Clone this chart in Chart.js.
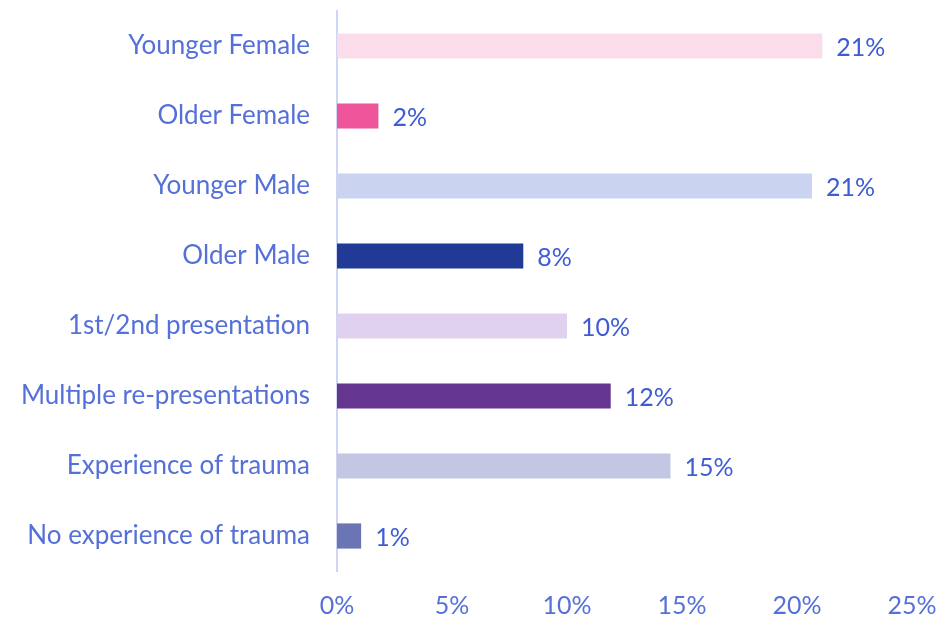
<!DOCTYPE html>
<html>
<head>
<meta charset="utf-8">
<script src="https://cdn.jsdelivr.net/npm/chart.js@4"></script>
<style>
  html, body { margin: 0; padding: 0; background: #fff; }
  #wrap { width: 948px; height: 620px; position: relative; }
</style>
</head>
<body>
<div id="wrap"><canvas id="chart"></canvas></div>
<script>
const categories = [
  'Younger Female', 'Older Female', 'Younger Male', 'Older Male',
  '1st/2nd presentation', 'Multiple re-presentations',
  'Experience of trauma', 'No experience of trauma'
];
const values = [21.1, 1.8, 20.65, 8.1, 10.0, 11.9, 14.5, 1.05];
const barColors = [
  '#fbdceb', '#ee559b', '#cad4f1', '#213a96',
  '#e0d1ee', '#653690', '#c4c7e3', '#6c75b4'
];
const xTicks = [0, 5, 10, 15, 20, 25];

const FONT = 'Lato, "Open Sans", sans-serif';
const TEXT = '#5570d8';
const LABEL_TEXT = '#3f5cd4';

// draws the rounded percentage just right of each bar
const valueLabels = {
  id: 'valueLabels',
  afterDatasetsDraw(chart) {
    const ctx = chart.ctx;
    const meta = chart.getDatasetMeta(0);
    ctx.save();
    ctx.font = '25px ' + FONT;
    ctx.fillStyle = LABEL_TEXT;
    ctx.textBaseline = 'middle';
    ctx.textAlign = 'left';
    meta.data.forEach((bar, i) => {
      ctx.fillText(Math.round(values[i]) + '%', bar.x + 14, bar.y + 2);
    });
    ctx.restore();
  }
};

new Chart(document.getElementById('chart'), {
  type: 'bar',
  data: {
    labels: categories,
    datasets: [{
      data: values,
      backgroundColor: barColors,
      borderWidth: 0,
      barPercentage: 0.36,
      categoryPercentage: 1
    }]
  },
  options: {
    indexAxis: 'y',
    responsive: true,
    maintainAspectRatio: false,
    animation: false,
    layout: { padding: { top: 11, right: 36, left: 0, bottom: 0 } },
    plugins: {
      legend: { display: false },
      tooltip: { enabled: false }
    },
    scales: {
      x: {
        min: 0,
        max: 25,
        afterBuildTicks: (scale) => { scale.ticks = xTicks.map(v => ({ value: v })); },
        afterFit: (scale) => {
          scale.height = 49;
          scale.paddingLeft = 0;
          scale.paddingRight = 0;
        },
        grid: { display: false, drawTicks: false },
        border: { display: false },
        ticks: {
          padding: 20,
          color: TEXT,
          font: { family: FONT, size: 25 },
          callback: (v) => v + '%'
        }
      },
      y: {
        afterFit: (scale) => {
          scale.width = 337;
          scale.paddingTop = 0;
          scale.paddingBottom = 0;
        },
        grid: { display: false, drawTicks: false },
        border: { display: true, color: '#d0d6f2', width: 2 },
        ticks: {
          padding: 27,
          color: TEXT,
          font: { family: FONT, size: 26 }
        }
      }
    }
  },
  plugins: [valueLabels]
});
</script>
</body>
</html>
